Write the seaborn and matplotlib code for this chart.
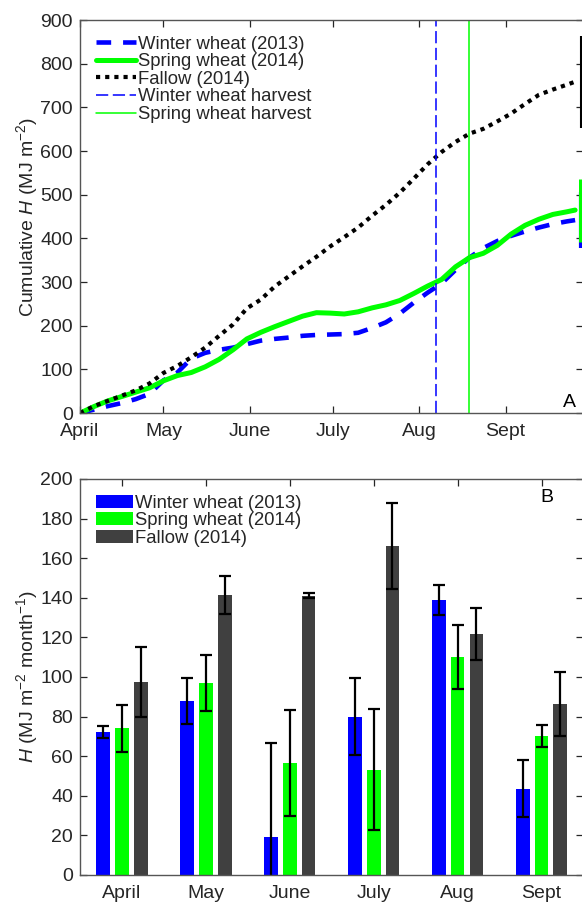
import numpy as np
import pandas as pd
import matplotlib
matplotlib.use("Agg")
import matplotlib.pyplot as plt
import seaborn as sns

# === Panel A data: cumulative H, days since 1 April ===
days = [0, 5, 10, 15, 20, 25, 30, 35, 40, 45, 50, 55, 60, 65, 70, 75, 80, 85, 90,
        95, 100, 105, 110, 115, 120, 125, 130, 135, 140, 145, 150, 155, 160, 165,
        170, 175, 178]
winter_cum = [0, 8, 16, 23, 32, 44, 75, 93, 125, 138, 145, 150, 158, 166, 170, 173,
              177, 179, 180, 181, 184, 195, 208, 228, 253, 276, 297, 328, 356, 378,
              394, 406, 416, 425, 433, 439, 442]
spring_cum = [0, 15, 28, 38, 48, 58, 74, 86, 93, 106, 123, 145, 170, 185, 198, 210,
              222, 230, 229, 227, 232, 241, 248, 258, 274, 291, 306, 335, 356, 366,
              384, 410, 430, 444, 455, 461, 465]
fallow_cum = [0, 16, 28, 40, 52, 68, 92, 108, 128, 150, 177, 203, 240, 260, 290, 313,
              336, 358, 382, 403, 425, 452, 477, 505, 537, 570, 598, 621, 640, 651,
              668, 686, 708, 729, 741, 752, 759]
end_day = 180
end_err = {"winter": 65, "spring": 72, "fallow": 105}
winter_harvest = 128   # 7 Aug
spring_harvest = 140   # 19 Aug
month_starts = [0, 30, 61, 91, 122, 153]
month_labels_a = ["April", "May", "June", "July", "Aug", "Sept"]

# === Panel B data: monthly H ===
months = ["April", "May", "June", "July", "Aug", "Sept"]
winter_h = [72, 88, 19, 80, 139, 43.5]
spring_h = [74, 97, 56.6, 53.2, 110, 70.2]
fallow_h = [97.5, 141.4, 141, 166.2, 121.7, 86.3]
winter_se = [3, 11.6, 47.5, 19.4, 7.6, 14.4]
spring_se = [12, 14.3, 26.7, 30.5, 16.2, 5.5]
fallow_se = [17.5, 9.4, 1.2, 21.6, 13.3, 16.3]

labels = ["Winter wheat (2013)", "Spring wheat (2014)", "Fallow (2014)"]
colors = ["#0000ff", "#00ff00", "#404040"]

# === Style ===
sns.set_style("ticks")
plt.rcParams["font.family"] = ["Liberation Sans", "DejaVu Sans"]
plt.rcParams["mathtext.fontset"] = "custom"
plt.rcParams["mathtext.rm"] = "Liberation Sans"
plt.rcParams["mathtext.it"] = "Liberation Sans:italic"
axis_col = "#262626"
tick_fs = 14
leg_fs = 13.3

fig = plt.figure(figsize=(5.82, 9.02), dpi=100)
ax1 = fig.add_axes([0.1375, 0.542, 0.865, 0.4357])
ax2 = fig.add_axes([0.1375, 0.030, 0.865, 0.439])

def style_axis(ax):
    for s in ax.spines.values():
        s.set_color("#555555")
        s.set_linewidth(1.0)
    ax.tick_params(direction="in", length=5, width=0.9, colors=axis_col,
                   labelsize=tick_fs, top=True, right=True, pad=5)
    ax.tick_params(axis="x", pad=7)
    ax.yaxis.set_label_coords(-0.08, 0.5)

# === Panel A ===
df_a = pd.DataFrame({"day": days, "winter": winter_cum,
                     "spring": spring_cum, "fallow": fallow_cum})
sns.lineplot(data=df_a, x="day", y="winter", ax=ax1, color=colors[0], lw=3.3,
             linestyle=(0, (3.2, 2.6)), label=labels[0])
sns.lineplot(data=df_a, x="day", y="spring", ax=ax1, color=colors[1], lw=3.6,
             label=labels[1])
sns.lineplot(data=df_a, x="day", y="fallow", ax=ax1, color="black", lw=3.0,
             linestyle=(0, (1, 1.2)), label=labels[2])
ax1.axvline(winter_harvest, color=colors[0], lw=1.1, linestyle=(0, (8, 3)),
            label="Winter wheat harvest")
ax1.axvline(spring_harvest, color=colors[1], lw=1.1, label="Spring wheat harvest")

ax1.errorbar(end_day, winter_cum[-1], yerr=end_err["winter"], color=colors[0],
             elinewidth=3.0, capsize=0, fmt="none")
ax1.errorbar(end_day, spring_cum[-1], yerr=end_err["spring"], color=colors[1],
             elinewidth=3.6, capsize=0, fmt="none")
ax1.errorbar(end_day, fallow_cum[-1], yerr=end_err["fallow"], color="black",
             elinewidth=1.5, capsize=0, fmt="none")

ax1.set_xlim(0, 181)
ax1.set_ylim(0, 900)
ax1.set_yticks(range(0, 901, 100))
ax1.set_xticks(month_starts)
ax1.set_xticklabels(month_labels_a)
ax1.set_xlabel("")
ax1.set_ylabel(r"Cumulative $\it{H}$ (MJ m$^{-2}$)", fontsize=tick_fs, color=axis_col)
style_axis(ax1)
ax1.legend(loc="upper left", frameon=False, fontsize=leg_fs, handlelength=2.2,
           handletextpad=0.1, labelspacing=0.03, borderaxespad=0.45,
           bbox_to_anchor=(0.0, 1.0))
ax1.text(0.985, 0.005, "A", transform=ax1.transAxes, ha="right", va="bottom",
         fontsize=tick_fs, color="black")

# === Panel B ===
df_b = pd.DataFrame({
    "month": months * 3,
    "H": winter_h + spring_h + fallow_h,
    "se": winter_se + spring_se + fallow_se,
    "treatment": [labels[0]] * 6 + [labels[1]] * 6 + [labels[2]] * 6,
})
sns.barplot(data=df_b, x="month", y="H", hue="treatment", order=months,
            hue_order=labels, palette=colors, width=0.672, gap=0.27,
            errorbar=None, saturation=1, linewidth=0, ax=ax2)

for cont, lab in zip(ax2.containers, labels):
    sub = df_b[df_b["treatment"] == lab]
    xs = [p.get_x() + p.get_width() / 2 for p in cont.patches]
    ax2.errorbar(xs, sub["H"].values, yerr=sub["se"].values, fmt="none",
                 ecolor="black", elinewidth=1.6, capsize=4.3, capthick=1.6)

ax2.set_xlim(-0.5, 5.5)
ax2.set_ylim(0, 200)
ax2.set_yticks(range(0, 201, 20))
ax2.set_xlabel("")
ax2.set_ylabel(r"$\it{H}$ (MJ m$^{-2}$ month$^{-1}$)", fontsize=tick_fs, color=axis_col)
style_axis(ax2)
ax2.legend(loc="upper left", frameon=False, fontsize=leg_fs, handlelength=2.0,
           handleheight=0.7, handletextpad=0.1, labelspacing=0.03,
           borderaxespad=0.45, bbox_to_anchor=(0.0, 1.0))
ax2.text(0.94, 0.975, "B", transform=ax2.transAxes, ha="right", va="top",
         fontsize=tick_fs, color="black")

fig.savefig("out.png", dpi=100)
